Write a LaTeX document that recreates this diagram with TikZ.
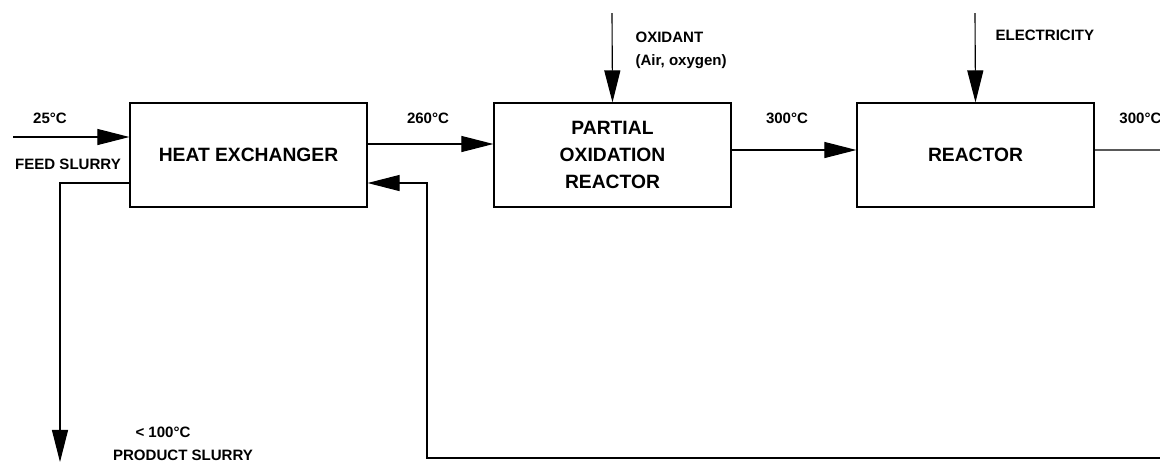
\documentclass[tikz,border=0pt]{standalone}
\usepackage{fontspec}
\setmainfont{Liberation Sans}
\usetikzlibrary{arrows.meta,positioning}

\begin{document}
\begin{tikzpicture}[
  x=0.025cm, y=-0.025cm,
  line width=0.8pt,
  >={Triangle[length=0.8cm,width=0.4cm]},
  unit/.style={draw, rectangle, minimum width=5.925cm, minimum height=2.6cm,
    align=center, font=\fontsize{13.7}{19}\selectfont\bfseries, inner sep=0pt},
  lbl/.style={font=\fontsize{10.7}{12}\selectfont\bfseries, inner sep=0pt},
  flow/.style={draw, ->}
]
\useasboundingbox (0,0) rectangle (1160,462);

% process units
\node[unit] (hx)  at (248.5,155) {HEAT EXCHANGER};
\node[unit] (por) at (612.5,155) {PARTIAL\\OXIDATION\\REACTOR};
\node[unit] (rea) at (975.5,155) {REACTOR};

% free ends
\coordinate (feedin) at (13,137);
\coordinate (oxin)   at (612,13);
\coordinate (elin)   at (975,13);
\coordinate (outr)   at (1160,150);
\coordinate (retin)  at (1160,458);
\coordinate (bend)   at (427,458);
\coordinate (prodout) at (60,462);

% streams
\draw[flow] (feedin) -- (feedin -| hx.west);
\draw[flow] ([yshift=0.275cm]hx.east) -- ([yshift=0.275cm]por.west);
\draw[flow] ([yshift=0.125cm]por.east) -- ([yshift=0.125cm]rea.west);
\draw ([yshift=0.125cm]rea.east) -- (outr);
\draw[flow] (oxin) -- (por.north);
\draw[flow] (elin) -- (rea.north);
\draw[flow] (retin) -- (bend) |- ([yshift=-0.7cm]hx.east);
\draw[flow] ([yshift=-0.7cm]hx.west) -| (prodout);

% labels
\node[lbl] (t25)   at (50,118)  {25°C};
\node[lbl] (feed)  at (68,164)  {FEED SLURRY};
\node[lbl] (t260)  at (428,118) {260°C};
\node[lbl] (t300a) at (787,118) {300°C};
\node[lbl, anchor=east] (t300b) at (1162,118) {300°C};
\node[lbl, anchor=west] (ox)   at (635,37) {OXIDANT};
\node[lbl, anchor=west] (oxb)  at (635,62) {(Air, oxygen)};
\node[lbl, anchor=west] (el)   at (995,35) {ELECTRICITY};
\node[lbl] (t100)  at (163,432) {< 100°C};
\node[lbl] (prod)  at (183,455) {PRODUCT SLURRY};
\end{tikzpicture}
\end{document}
